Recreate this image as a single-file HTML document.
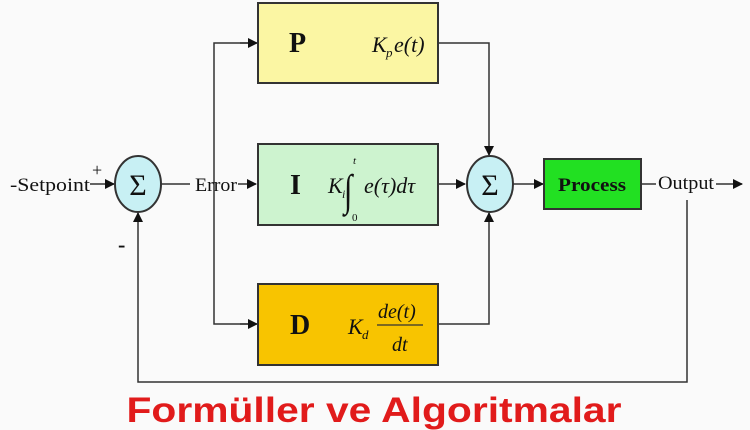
<!DOCTYPE html>
<html><head><meta charset="utf-8"><style>
html,body{margin:0;padding:0;background:#fafafa;}
svg{display:block;}
text{font-family:"Liberation Serif",serif;fill:#111;}
</style></head><body>
<svg width="750" height="430" viewBox="0 0 750 430" xmlns="http://www.w3.org/2000/svg">
<defs>
<marker id="a" markerWidth="10" markerHeight="10" refX="9" refY="5" orient="auto" markerUnits="userSpaceOnUse">
<path d="M0,0 L10,5 L0,10 Z" fill="#111"/></marker>
</defs>
<rect width="750" height="430" fill="#fafafa"/>
<g stroke="#333" stroke-width="1.5" fill="none">
<line x1="90" y1="184" x2="114" y2="184" marker-end="url(#a)"/>
<line x1="161" y1="184" x2="190" y2="184"/>
<line x1="238" y1="184" x2="256" y2="184" marker-end="url(#a)"/>
<polyline points="256,43 214,43 214,324 256,324"/>
<line x1="240" y1="43" x2="257" y2="43" marker-end="url(#a)"/>
<line x1="240" y1="324" x2="257" y2="324" marker-end="url(#a)"/>
<polyline points="438,43 489,43 489,155" marker-end="url(#a)"/>
<line x1="438" y1="184" x2="465" y2="184" marker-end="url(#a)"/>
<polyline points="438,324 489,324 489,213" marker-end="url(#a)"/>
<line x1="513" y1="184" x2="543" y2="184" marker-end="url(#a)"/>
<line x1="641" y1="184" x2="656" y2="184"/>
<line x1="716" y1="184" x2="742" y2="184" marker-end="url(#a)"/>
<polyline points="687,200 687,382 138,382 138,213" marker-end="url(#a)"/>
</g>
<rect x="258" y="3" width="180" height="80" fill="#fbf6a3" stroke="#333" stroke-width="2"/>
<rect x="258" y="144" width="180" height="81" fill="#cdf3cf" stroke="#333" stroke-width="2"/>
<rect x="258" y="284" width="180" height="81" fill="#f8c400" stroke="#333" stroke-width="2"/>
<rect x="544" y="159" width="97" height="50" fill="#22e022" stroke="#333" stroke-width="2"/>
<ellipse cx="138" cy="184" rx="23" ry="28" fill="#c8f0f4" stroke="#333" stroke-width="2"/>
<ellipse cx="490" cy="184" rx="23" ry="28" fill="#c8f0f4" stroke="#333" stroke-width="2"/>
<text x="138" y="195" font-size="30" text-anchor="middle">Σ</text>
<text x="490" y="195" font-size="30" text-anchor="middle">Σ</text>
<text x="10" y="191" font-size="19" textLength="80" lengthAdjust="spacingAndGlyphs">-Setpoint</text>
<text x="92" y="176" font-size="18">+</text>
<text x="118" y="252" font-size="22" font-weight="bold">-</text>
<text x="195" y="191" font-size="19" textLength="42" lengthAdjust="spacingAndGlyphs">Error</text>
<text x="658" y="189" font-size="19" textLength="56" lengthAdjust="spacingAndGlyphs">Output</text>
<text x="592" y="191" font-size="19" font-weight="bold" text-anchor="middle" textLength="68" lengthAdjust="spacingAndGlyphs">Process</text>
<text x="289" y="52" font-size="28" font-weight="bold">P</text>
<text x="290" y="194" font-size="28" font-weight="bold">I</text>
<text x="290" y="334" font-size="28" font-weight="bold">D</text>
<g font-style="italic">
<text x="372" y="52" font-size="22">K</text><text x="386" y="57" font-size="13">p</text><text x="394" y="52" font-size="22">e(t)</text>
<text x="328" y="193" font-size="22">K</text><text x="342" y="198" font-size="12">i</text>
<text x="344" y="205" font-size="44" font-style="normal" transform="translate(344 205) scale(0.7 1) translate(-344 -205)">∫</text>
<text x="353" y="164" font-size="11">t</text><text x="352" y="221" font-size="11" font-style="normal">0</text>
<text x="364" y="193" font-size="22">e(τ)dτ</text>
<text x="348" y="334" font-size="22">K</text><text x="362" y="339" font-size="13">d</text>
<text x="378" y="318" font-size="20">de(t)</text>
<line x1="377" y1="325" x2="423" y2="325" stroke="#333" stroke-width="1.3"/>
<text x="392" y="351" font-size="20">dt</text>
</g>
<text x="374" y="422" font-size="35" font-weight="bold" text-anchor="middle" textLength="495" lengthAdjust="spacingAndGlyphs" style="font-family:'Liberation Sans',sans-serif;fill:#e11b1b">Formüller ve Algoritmalar</text>
</svg>
</body></html>
